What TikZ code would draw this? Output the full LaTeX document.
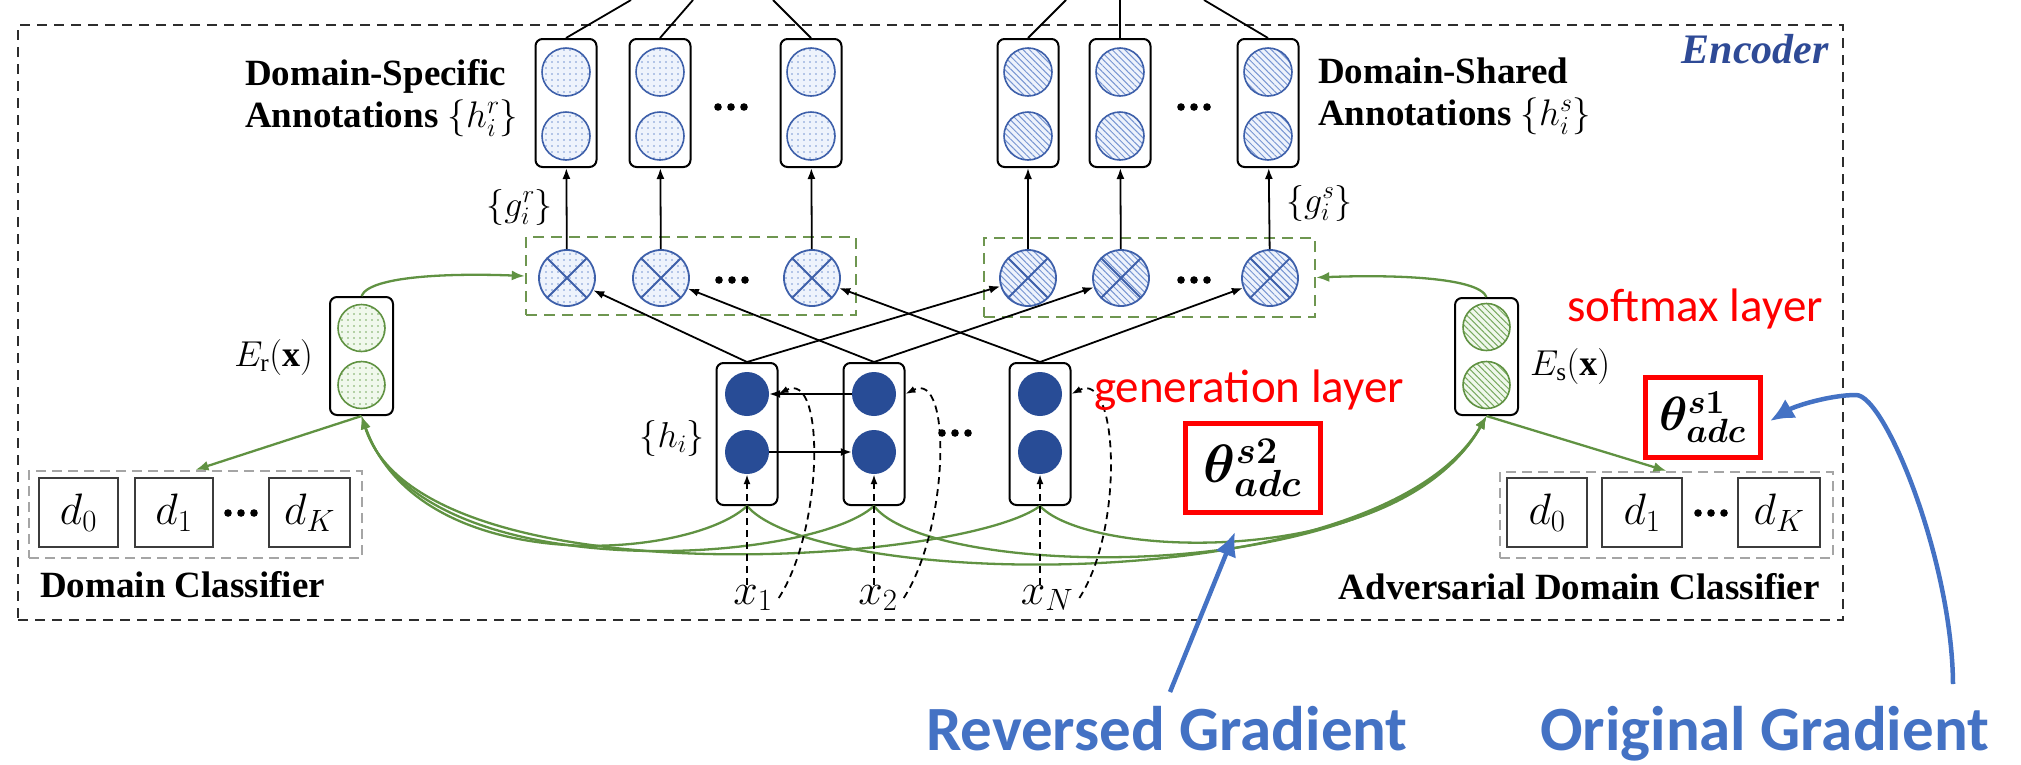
\RequirePackage{fix-cm}
\documentclass[tikz,border=0pt]{standalone}
\usepackage{amsmath}
\usepackage{fontspec}
\setmainfont{Liberation Serif}
\newfontfamily\calfont{Carlito}
\usepackage{bm}
\usetikzlibrary{arrows.meta,patterns.meta,calc}
\definecolor{encblue}{RGB}{46,74,150}
\definecolor{cblue}{RGB}{62,96,170}
\definecolor{cfill}{RGB}{238,243,252}
\definecolor{hblue}{RGB}{40,76,150}
\definecolor{pblue}{RGB}{120,150,210}
\definecolor{gline}{RGB}{96,146,66}
\definecolor{gfill}{RGB}{240,248,236}
\definecolor{gpat}{RGB}{120,170,95}
\definecolor{gboxc}{RGB}{110,150,80}
\definecolor{offblue}{RGB}{68,114,196}
\definecolor{dgray}{RGB}{45,45,45}
\definecolor{lgray}{RGB}{165,165,165}
\definecolor{dkbox}{RGB}{60,60,60}
\begin{document}
\begin{tikzpicture}[x=1pt,y=-1pt,
  encbox/.style={draw=dgray,dash pattern=on 10pt off 7pt,line width=2.6pt,inner sep=0pt},
  colbox/.style={draw=black,line width=2pt,rounded corners=7pt,minimum width=61pt,inner sep=0pt},
  dotcirc/.style={circle,draw=cblue,line width=1.6pt,minimum size=48pt,inner sep=0pt,preaction={fill=cfill},pattern={Dots[distance=6pt,radius=0.8pt]},pattern color=pblue},
  hatchcirc/.style={circle,draw=cblue,line width=1.6pt,minimum size=48pt,inner sep=0pt,preaction={fill=cfill},pattern={Lines[angle=-45,distance=4.5pt,line width=1pt]},pattern color=pblue},
  hcirc/.style={circle,fill=hblue,minimum size=44pt,inner sep=0pt},
  gdotcirc/.style={circle,draw=gline,line width=1.6pt,minimum size=47pt,inner sep=0pt,preaction={fill=gfill},pattern={Dots[distance=6pt,radius=0.8pt]},pattern color=gpat},
  ghatchcirc/.style={circle,draw=gline,line width=1.6pt,minimum size=47pt,inner sep=0pt,preaction={fill=gfill},pattern={Lines[angle=-45,distance=4.5pt,line width=1pt]},pattern color=gpat},
  xcross/.style={path picture={\draw[cblue,line width=1.8pt] (path picture bounding box.north west)--(path picture bounding box.south east) (path picture bounding box.north east)--(path picture bounding box.south west);}},
  otdot/.style={dotcirc,minimum size=56pt,line width=1.8pt,xcross},
  othatch/.style={hatchcirc,minimum size=56pt,line width=1.8pt,xcross},
  gboxst/.style={draw=gboxc,dash pattern=on 11pt off 7pt,line width=2.4pt,inner sep=0pt},
  graydash/.style={draw=lgray,dash pattern=on 10pt off 6pt,line width=2.2pt,inner sep=0pt},
  dbox/.style={draw=dkbox,line width=2.2pt,minimum height=69pt,inner sep=0pt,font=\fontsize{44}{50}\selectfont},
  thbox/.style={draw=red,line width=5pt,inner sep=0pt},
  ellip/.style={minimum width=42pt,minimum height=10pt,inner sep=0pt,path picture={\foreach \k in {-13,0,13} \fill ([xshift=\k pt]path picture bounding box.center) circle (3.8pt);}},
  blk/.style={-{Latex[length=11pt,width=8pt]},line width=1.8pt},
  garr/.style={-{Latex[length=13pt,width=10pt]},line width=2.3pt,color=gline},
  dasharr/.style={-{Latex[length=10pt,width=7pt]},line width=1.8pt,dash pattern=on 7pt off 5pt},
  bluearr/.style={-{Latex[length=24pt,width=22pt]},line width=4.5pt,color=offblue},
  bfont/.style={font=\fontsize{37}{42}\selectfont\bfseries,inner sep=0pt},
  mfont/.style={font=\fontsize{36}{40}\selectfont,inner sep=0pt},
  xfont/.style={font=\fontsize{44}{48}\selectfont,inner sep=0pt},
  redtxt/.style={font=\calfont\fontsize{47}{52}\selectfont,text=red,inner sep=0pt},
  gradtxt/.style={font=\calfont\bfseries\fontsize{63}{70}\selectfont,text=offblue,inner sep=0pt}
]
\useasboundingbox (0,0) rectangle (2021,764);
\node[encbox,minimum width=1825pt,minimum height=595pt] (enc) at (930.5,322.5) {};
\node[font=\bfseries\itshape\fontsize{42}{48}\selectfont,text=encblue,anchor=base east,inner sep=0pt] (enclbl) at (1829,63) {Encoder};

% top edge coordinates
\coordinate (t1) at (631,0);
\coordinate (t2) at (693,0);
\coordinate (t3) at (773,0);
\coordinate (t4) at (1066,0);
\coordinate (t5) at (1120,0);
\coordinate (t6) at (1204,0);

% green dashed boxes
\node[gboxst,minimum width=330pt,minimum height=78pt] (gbl) at (691,276) {};
\node[gboxst,minimum width=331pt,minimum height=79pt] (gbr) at (1149.5,277.5) {};

% bottom h columns (boxes)
\foreach \n/\x in {A/747,B/874,C/1040}{
  \node[colbox,fill=white,minimum height=142pt] (h\n) at (\x,434) {};
}
% E boxes
\node[colbox,minimum width=63pt,minimum height=118pt] (er) at (361.5,356) {};
\node[colbox,minimum width=63pt,minimum height=117pt] (es) at (1486.5,356.5) {};

% green curves from h columns to E_r and E_s
\draw[garr] (hA.south) .. controls (690,560) and (420,580) .. (er.south);
\draw[garr] (hB.south) .. controls (810,565) and (420,590) .. (er.south);
\draw[garr] (hC.south) .. controls (960,565) and (420,600) .. (er.south);
\draw[garr] (hA.south) .. controls (820,590) and (1380,600) .. (es.south);
\draw[garr] (hB.south) .. controls (930,580) and (1390,590) .. (es.south);
\draw[garr] (hC.south) .. controls (1090,560) and (1400,570) .. (es.south);

% h circles
\foreach \n/\x in {A/747,B/874,C/1040}{
  \node[hcirc] (h\n t) at (\x,394) {};
  \node[hcirc] (h\n b) at (\x,452) {};
}

% top columns
\foreach \n/\x/\k in {1/566/dotcirc,2/660/dotcirc,3/811/dotcirc,4/1028/hatchcirc,5/1120/hatchcirc,6/1268/hatchcirc}{
  \node[colbox,minimum height=128pt] (c\n) at (\x,103) {};
  \node[\k] (c\n t) at (\x,72) {};
  \node[\k] (c\n b) at (\x,136) {};
  \draw[line width=1.8pt] (c\n.north) -- (t\n);
}

% multiplication nodes
\foreach \n/\x/\k in {1/567/otdot,2/661/otdot,3/812/otdot,4/1028/othatch,5/1121/othatch,6/1270/othatch}{
  \node[\k] (m\n) at (\x,278) {};
  \draw[blk] (m\n) -- (c\n);
}

% E circles
\node[gdotcirc] (ert) at (361.5,328) {};
\node[gdotcirc] (erb) at (361.5,385) {};
\node[ghatchcirc] (est) at (1486.5,327) {};
\node[ghatchcirc] (esb) at (1486.5,385) {};
\node[mfont,anchor=east] (erl) at (313,357) {$E_{\mathrm{r}}(\mathbf{x})$};
\node[mfont,anchor=west] (esl) at (1530,366) {$E_{\mathrm{s}}(\mathbf{x})$};

% classifiers
\node[graydash,minimum width=333pt,minimum height=87pt] (dcl) at (195.5,514.5) {};
\node[dbox,minimum width=79pt] (dl0) at (78.5,512.5) {$d_0$};
\node[dbox,minimum width=78pt] (dl1) at (174,512.5) {$d_1$};
\node[ellip] (el1) at (241,513) {};
\node[dbox,minimum width=81pt] (dlK) at (309.5,512.5) {$d_K$};
\node[bfont,anchor=west] (dclt) at (40,585) {Domain Classifier};

\node[graydash,minimum width=333pt,minimum height=86pt] (adc) at (1666.5,515) {};
\node[dbox,minimum width=80pt] (dr0) at (1547,512.5) {$d_0$};
\node[dbox,minimum width=80pt] (dr1) at (1642,512.5) {$d_1$};
\node[ellip] (el2) at (1711,513) {};
\node[dbox,minimum width=82pt] (drK) at (1779,512.5) {$d_K$};
\node[bfont,anchor=east] (adct) at (1820,587) {Adversarial Domain Classifier};

% annotation labels
\node[bfont,anchor=west,align=left] (dsl) at (245,98) {Domain-Specific\\Annotations $\{h_i^r\}$};
\node[bfont,anchor=west,align=left] (dshl) at (1318,96) {Domain-Shared\\Annotations $\{h_i^s\}$};
\node[mfont,anchor=east] (grl) at (553,207) {$\{g_i^r\}$};
\node[mfont,anchor=west] (gsl) at (1286,203) {$\{g_i^s\}$};
\node[mfont,anchor=east] (hl) at (705,438) {$\{h_i\}$};

% ellipses
\node[ellip] (el3) at (731,107) {};
\node[ellip] (el4) at (1194,107) {};
\node[ellip] (el5) at (732,280) {};
\node[ellip] (el6) at (1194,280) {};
\node[ellip] (el7) at (955,433) {};

% inputs
\node[xfont] (x1) at (753,598) {$x_1$};
\node[xfont] (x2) at (878,598) {$x_2$};
\node[xfont] (xN) at (1047,598) {$x_N$};

% black arrows h -> multipliers
\draw[blk] (hA.north) -- (m1);
\draw[blk] (hA.north) -- (m4);
\draw[blk] (hB.north) -- (m2);
\draw[blk] (hB.north) -- (m5);
\draw[blk] (hC.north) -- (m3);
\draw[blk] (hC.north) -- (m6);
\draw[blk] (hBt) -- (hAt);
\draw[blk] (hAb) -- (hBb);

% dashed input arrows
\foreach \h/\xx in {A/x1,B/x2,C/xN}{
  \draw[dasharr] (h\h |- \xx.north) -- (h\h b);
  \draw[dasharr] ([xshift=6pt]\xx.east) .. controls +(45,-70) and +(47,-24) .. (h\h.east |- h\h t.center);
}

% green arrows of E boxes
\draw[garr] (er.north) .. controls +(8,-20) and +(-75,-3) .. (gbl.west);
\draw[garr] (es.north) .. controls +(-8,-20) and +(75,-3) .. (gbr.east);
\draw[garr] (er.south) -- (dcl.north);
\draw[garr] (es.south) -- (adc.north);

% theta boxes and red labels
\node[thbox,minimum width=135pt,minimum height=89pt,font=\fontsize{54}{60}\selectfont] (th2) at (1252.5,467.5) {$\bm{\theta^{s2}_{adc}}$};
\node[thbox,minimum width=115pt,minimum height=80pt,font=\fontsize{48}{54}\selectfont] (th1) at (1702.5,417) {$\bm{\theta^{s1}_{adc}}$};
\node[redtxt,anchor=base] (gen) at (1249,402) {generation layer};
\node[redtxt,anchor=base] (soft) at (1695,321) {softmax layer};

% gradient arrows
\coordinate (revs) at (1170,692);
\coordinate (revt) at (1235,532);
\draw[bluearr] (revs) -- (revt);
\coordinate (origs) at (1953,684);
\coordinate (origt) at (1770,421);
\draw[bluearr] (origs) .. controls (1952,560) and (1885,395) .. (1856,395) .. controls (1830,395) and (1795,406) .. (origt);
\node[gradtxt,anchor=base east] (rev) at (1408,750) {Reversed Gradient};
\node[gradtxt,anchor=base west] (orig) at (1540,750) {Original Gradient};
\end{tikzpicture}
\end{document}
